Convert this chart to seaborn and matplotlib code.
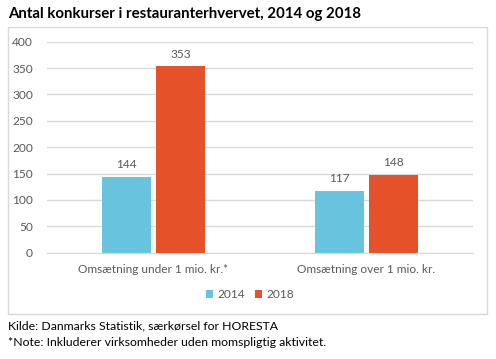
import matplotlib
matplotlib.use("Agg")
import matplotlib.pyplot as plt
import seaborn as sns
import pandas as pd
from matplotlib.patches import Rectangle, Patch

categories = ["Omsætning under 1 mio. kr.*", "Omsætning over 1 mio. kr."]
years = ["2014", "2018"]
values_2014 = [144, 117]
values_2018 = [353, 148]
yticks = [0, 50, 100, 150, 200, 250, 300, 350, 400]

title = "Antal konkurser i restauranterhvervet, 2014 og 2018"
source = "Kilde: Danmarks Statistik, særkørsel for HORESTA"
note = "*Note: Inkluderer virksomheder uden momspligtig aktivitet."

df = pd.DataFrame({
    "kategori": categories * 2,
    "år": [years[0]] * 2 + [years[1]] * 2,
    "værdi": values_2014 + values_2018,
})

sns.set_style("white")
plt.rcParams["font.family"] = ["Lato", "DejaVu Sans"]

W, H = 496, 359
fig = plt.figure(figsize=(W / 100, H / 100), dpi=100)
ax = fig.add_axes([47 / W, 1 - 252.7 / H, (473 - 47) / W, (252.7 - 41.7) / H])

palette = {"2014": "#68C4DE", "2018": "#E55229"}
sns.barplot(data=df, x="kategori", y="værdi", hue="år", palette=palette,
            width=0.507, gap=0.11, ax=ax, legend=False, edgecolor="none",
            saturation=1)

ax.set_ylim(0, 400)
ax.set_xlim(-0.5, 1.5)
ax.set_yticks(yticks)
ax.set_yticklabels([str(t) for t in yticks])
ax.yaxis.grid(True, color="#D9D9D9", linewidth=1)
ax.set_axisbelow(True)
for s in ["top", "right", "left"]:
    ax.spines[s].set_visible(False)
ax.spines["bottom"].set_color("#D9D9D9")
ax.tick_params(axis="both", length=0, colors="#595959", labelsize=8.6)
ax.tick_params(axis="y", pad=10)
ax.tick_params(axis="x", pad=8)
ax.set_xlabel("")
ax.set_ylabel("")

for cont in ax.containers:
    ax.bar_label(cont, fmt="%d", padding=5, color="#595959", fontsize=8.6)

handles = [Patch(facecolor=palette[y], edgecolor="none") for y in years]
fig.legend(handles, years, loc="center", bbox_to_anchor=(250 / W, 1 - 295 / H),
           ncol=2, frameon=False, fontsize=8.6, handlelength=0.6, handleheight=0.6,
           handletextpad=0.3, columnspacing=0.9, labelcolor="#595959")

fig.patches.append(Rectangle((8 / W, 1 - 314 / H), (487 - 8) / W, (314 - 27) / H,
                             transform=fig.transFigure, fill=False,
                             edgecolor="#D9D9D9", linewidth=1, zorder=0))

fig.text(8 / W, 1 - 14 / H, title, fontsize=10.8, fontweight="bold",
         va="center", ha="left", color="black")
fig.text(8 / W, 1 - 326 / H, source, fontsize=8.8, va="center", ha="left", color="black")
fig.text(8 / W, 1 - 343 / H, note, fontsize=8.8, va="center", ha="left", color="black")

fig.savefig("out.png", dpi=100, facecolor="white")
